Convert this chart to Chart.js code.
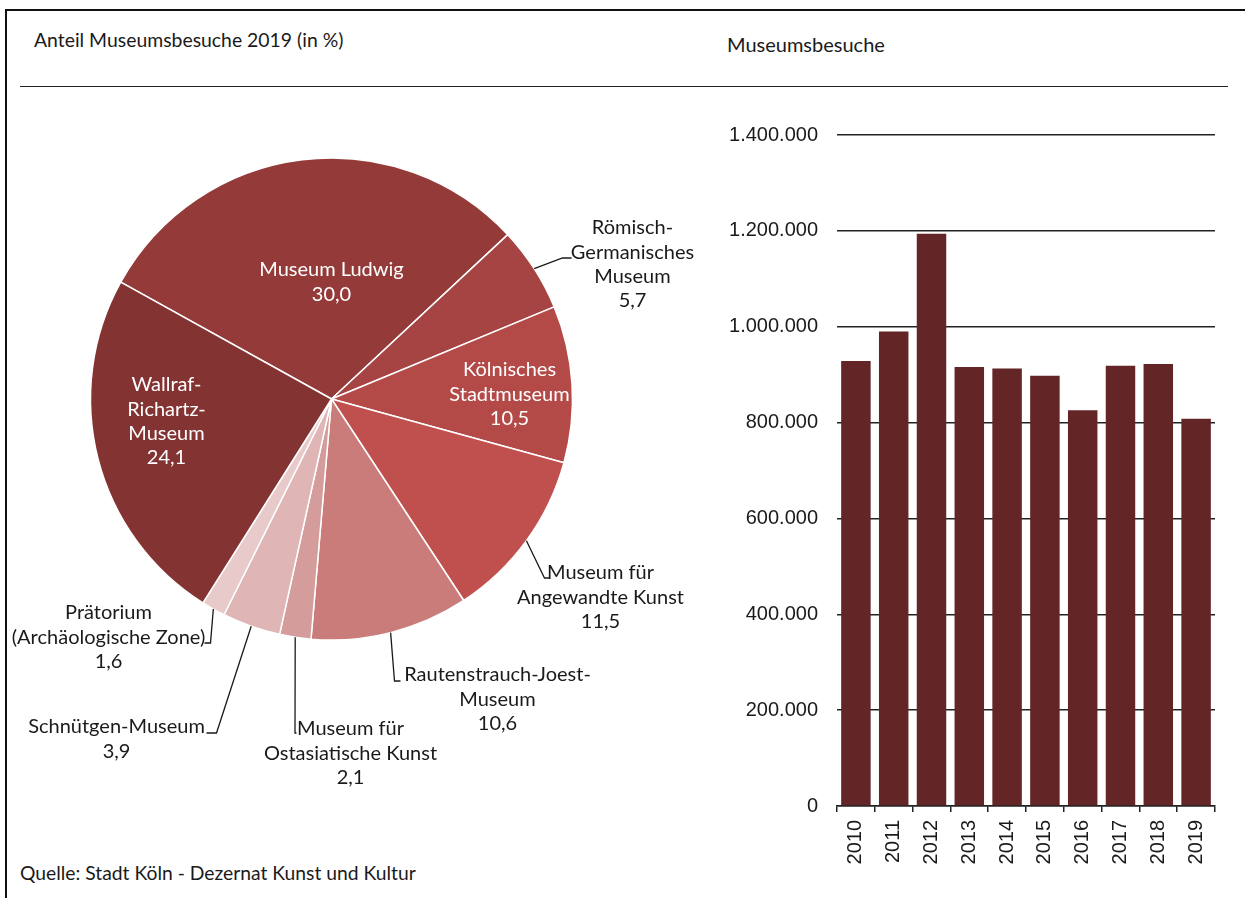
<!DOCTYPE html>
<html lang="de">
<head>
<meta charset="utf-8">
<title>Museumsbesuche Köln</title>
<script src="https://cdn.jsdelivr.net/npm/chart.js@4.4.1/dist/chart.umd.min.js"></script>
<style>
  html, body { margin: 0; padding: 0; background: #fff; }
  body { width: 1245px; height: 898px; position: relative; overflow: hidden;
         font-family: Lato, "Noto Sans", sans-serif; color: #1a1a1a; }
  .frame-top { position: absolute; left: 5px; top: 9px; width: 1240px; height: 2px; background: #111; }
  .frame-left { position: absolute; left: 5px; top: 9px; width: 2px; height: 889px; background: #111; }
  .rule { position: absolute; left: 20px; top: 85.5px; width: 1208px; height: 1.5px; background: #222; }
  .txt { position: absolute; font-size: 20px; line-height: 20px; white-space: nowrap; }
  #pie { position: absolute; left: 0; top: 90px; }
  #bar { position: absolute; left: 700px; top: 90px; }
</style>
</head>
<body>
<div class="frame-top"></div>
<div class="frame-left"></div>
<div class="txt" style="left:34px; top:30px; font-size:19.4px;">Anteil Museumsbesuche 2019 (in %)</div>
<div class="txt" style="left:727px; top:34px;">Museumsbesuche</div>
<div class="rule"></div>
<canvas id="pie" width="700" height="720"></canvas>
<canvas id="bar" width="545" height="808"></canvas>
<div class="txt" style="left:20px; top:863px; font-size:19.3px;">Quelle: Stadt Köln - Dezernat Kunst und Kultur</div>

<script>
// pie: share of museum visits 2019 (%)
var pieLabels = ['Museum Ludwig', 'Römisch-Germanisches Museum', 'Kölnisches Stadtmuseum',
  'Museum für Angewandte Kunst', 'Rautenstrauch-Joest-Museum', 'Museum für Ostasiatische Kunst',
  'Schnütgen-Museum', 'Prätorium (Archäologische Zone)', 'Wallraf-Richartz-Museum'];
var pieShares = [30.0, 5.7, 10.5, 11.5, 10.6, 2.1, 3.9, 1.6, 24.1];
var pieColors = ['#943b3a', '#a54443', '#b44a48', '#c0504d', '#c97c7a', '#d49c9b', '#dfb5b5', '#e9caca', '#843333'];

// how the names are broken in the chart
var labelLines = [
  ['Museum Ludwig'],
  ['Römisch-', 'Germanisches', 'Museum'],
  ['Kölnisches', 'Stadtmuseum'],
  ['Museum für', 'Angewandte Kunst'],
  ['Rautenstrauch-Joest-', 'Museum'],
  ['Museum für', 'Ostasiatische Kunst'],
  ['Schnütgen-Museum'],
  ['Prätorium', '(Archäologische Zone)'],
  ['Wallraf-', 'Richartz-', 'Museum']
];

// bars: museum visits per year
var years = ['2010', '2011', '2012', '2013', '2014', '2015', '2016', '2017', '2018', '2019'];
var visits = [928500, 990000, 1194000, 916000, 913000, 897500, 825500, 918500, 922000, 808000];
var yTickStep = 200000;
var yMax = 1400000;

function fmtShare(v) { return v.toFixed(1).replace('.', ','); }
function fmtInt(v) { return String(v).replace(/\B(?=(\d{3})+(?!\d))/g, '.'); }

// label placement relative to pie centre (px); leader = elbow and end point
var labelSpots = [
  { dx: 0, dy: -129, inside: true },
  { dx: 301, dy: -171, leader: [231, -141, 240, -141] },
  { dx: 178, dy: -29, inside: true },
  { dx: 269, dy: 174, leader: [213, 179, 218, 179] },
  { dx: 166, dy: 276, leader: [63, 282, 69, 282] },
  { dx: 19, dy: 330, leader: [-36.5, 334, -35, 334] },
  { dx: -215, dy: 328, leader: [-115, 334, -125, 334] },
  { dx: -223, dy: 214, leader: [-121, 244, -127, 244] },
  { dx: -165, dy: -14, inside: true }
];

var pieLabelPlugin = {
  id: 'pieLabels',
  afterDatasetsDraw: function(chart) {
    var ctx = chart.ctx;
    var arcs = chart.getDatasetMeta(0).data;
    ctx.save();
    ctx.font = '20px Lato';
    ctx.textAlign = 'center';
    ctx.textBaseline = 'middle';
    ctx.lineWidth = 1.3;
    ctx.strokeStyle = '#1a1a1a';
    arcs.forEach(function(arc, i) {
      var p = arc.getProps(['x', 'y', 'startAngle', 'endAngle', 'outerRadius'], true);
      var spot = labelSpots[i];
      if (spot.leader) {
        var mid = (p.startAngle + p.endAngle) / 2;
        ctx.beginPath();
        ctx.moveTo(p.x + Math.cos(mid) * p.outerRadius, p.y + Math.sin(mid) * p.outerRadius);
        ctx.lineTo(p.x + spot.leader[0], p.y + spot.leader[1]);
        ctx.lineTo(p.x + spot.leader[2], p.y + spot.leader[3]);
        ctx.stroke();
      }
      ctx.fillStyle = spot.inside ? '#ffffff' : '#1a1a1a';
      var lines = labelLines[i].concat([fmtShare(pieShares[i])]);
      lines.forEach(function(t, k) {
        ctx.fillText(t, p.x + spot.dx, p.y + spot.dy + k * 24.3);
      });
    });
    ctx.restore();
  }
};

new Chart(document.getElementById('pie'), {
  type: 'pie',
  data: {
    labels: pieLabels,
    datasets: [{
      data: pieShares,
      backgroundColor: pieColors,
      borderColor: '#ffffff',
      borderWidth: 1.5,
      hoverOffset: 0
    }]
  },
  options: {
    responsive: false,
    animation: false,
    rotation: -61,
    radius: 241,
    layout: { padding: { left: 0, right: 37, top: 0, bottom: 102 } },
    plugins: { legend: { display: false }, tooltip: { enabled: false } }
  },
  plugins: [pieLabelPlugin]
});

var axisFont = { family: '"Liberation Sans", Arial, sans-serif', size: 20 };

new Chart(document.getElementById('bar'), {
  type: 'bar',
  data: {
    labels: years,
    datasets: [{
      data: visits,
      backgroundColor: '#632526',
      barPercentage: 0.78,
      categoryPercentage: 1
    }]
  },
  options: {
    responsive: false,
    animation: false,
    layout: { padding: { left: 0, right: 30, top: 45, bottom: 0 } },
    plugins: { legend: { display: false }, tooltip: { enabled: false } },
    scales: {
      x: {
        grid: { offset: true, drawOnChartArea: false, tickLength: 6, color: '#222', lineWidth: 1.5 },
        border: { display: true, color: '#222', width: 1.5 },
        ticks: { minRotation: 90, maxRotation: 90, autoSkip: false, padding: 8, font: axisFont, color: '#1a1a1a' },
        afterFit: function(s) { s.height = 92; }
      },
      y: {
        min: 0,
        max: yMax,
        grid: { drawTicks: false, color: '#222', lineWidth: 1.5 },
        border: { display: false },
        ticks: { stepSize: yTickStep, padding: 19, font: axisFont, color: '#1a1a1a',
                 callback: function(v) { return fmtInt(v); } },
        afterFit: function(s) { s.width = 137; }
      }
    }
  }
});
</script>
</body>
</html>
